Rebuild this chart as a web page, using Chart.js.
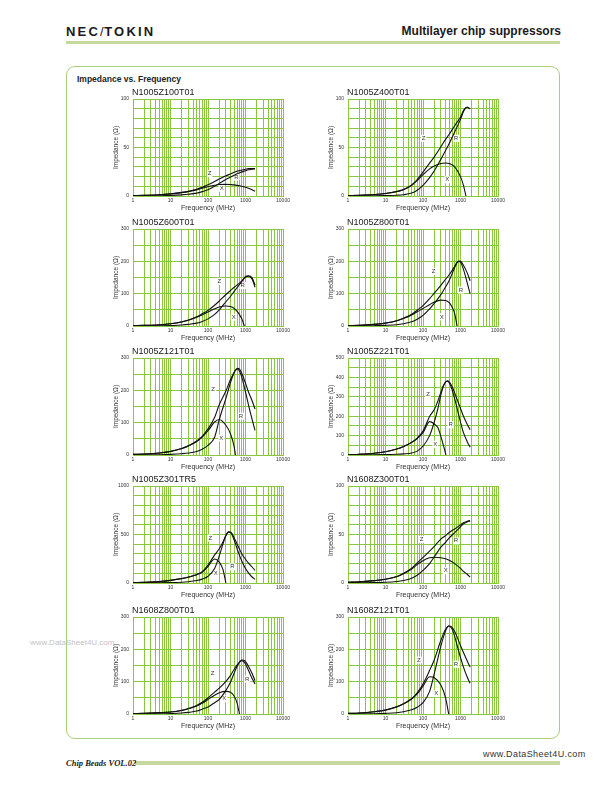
<!DOCTYPE html>
<html>
<head>
<meta charset="utf-8">
<script src="https://cdn.jsdelivr.net/npm/chart.js@4.4.1/dist/chart.umd.min.js"></script>
<style>
  body { margin: 0; width: 612px; height: 790px; position: relative; background: #fff; overflow: hidden;
         font-family: "Liberation Sans", Arial, sans-serif; color: #222; }
  .abs { position: absolute; white-space: nowrap; }
  canvas { position: absolute; }
  #logo { left: 66px; top: 25px; font-size: 13px; font-weight: bold; letter-spacing: 2.2px; line-height: 13px; color: #1a1a1a; }
  #logo span { font-weight: normal; letter-spacing: 0.5px; }
  #series { right: 51px; top: 25px; font-size: 12px; font-weight: bold; line-height: 13px; color: #1a1a1a; }
  #rule { left: 66px; top: 41px; width: 494px; height: 3px; background: #c5d89d; }
  #box { left: 66px; top: 66px; width: 492px; height: 671px; border: 1px solid #a9cf78; border-radius: 9px; }
  #section { left: 77px; top: 74px; font-size: 8.5px; font-weight: bold; line-height: 10px; }
  #foot { left: 66px; top: 758px; font-family: "Liberation Serif", "DejaVu Serif", serif; font-style: italic; font-weight: bold; font-size: 8.5px; line-height: 10px; }
  #footbar { left: 135px; top: 761px; width: 425px; height: 4px; background: #c5d89d; }
  #site { left: 483px; top: 749px; font-size: 9px; letter-spacing: 0.4px; line-height: 10px; color: #333; background: #fff; padding-right: 2px; }
  #mark { left: 30px; top: 638px; font-size: 8px; line-height: 9px; color: #c4c4c4; }
</style>
</head>
<body>
<div class="abs" id="logo">NEC<span>/</span>TOKIN</div>
<div class="abs" id="series">Multilayer chip suppressors</div>
<div class="abs" id="rule"></div>
<div class="abs" id="box"></div>
<div class="abs" id="section">Impedance vs. Frequency</div>
<div class="abs" id="mark">www.DataSheet4U.com</div>
<div class="abs" id="footbar"></div>
<div class="abs" id="foot">Chip Beads VOL.02</div>
<div class="abs" id="site">www.DataSheet4U.com</div>

<script>
// axis setup
const MODELS = ['N1005Z100T01', 'N1005Z400T01', 'N1005Z600T01', 'N1005Z800T01', 'N1005Z121T01',
                'N1005Z221T01', 'N1005Z301TR5', 'N1608Z300T01', 'N1608Z800T01', 'N1608Z121T01'];
const Y_MAX   = [100, 100, 300, 300, 300, 500, 1000, 100, 300, 300];
const Y_GRID  = [10, 10, 50, 50, 50, 50, 100, 10, 50, 50];
const Y_LABEL = [50, 50, 100, 100, 100, 100, 500, 50, 100, 100];
const FREQ_LABELS = ['1', '10', '100', '1000', '10000'];
const FREQ_GRID = [1, 2, 3, 4, 5, 6, 7, 8, 9, 10, 20, 30, 40, 50, 60, 70, 80, 90,
                   100, 200, 300, 400, 500, 600, 700, 800, 900, 1000, 2000, 3000, 4000,
                   5000, 6000, 7000, 8000, 9000, 10000];

// N1005Z100T01
const f_1005Z100 = [1, 2, 5, 10, 20, 30, 50, 70, 100, 150, 200, 300, 400, 500, 700, 1000, 1200, 1500, 1800];
const z_1005Z100 = [0.3, 0.6, 1.3, 2.3, 3.7, 4.8, 6.9, 8.9, 11.5, 14.9, 17.5, 20.8, 22.8, 24.4, 26.2, 27.5, 28.2, 28.3, 28.4];
const r_1005Z100 = [0.05, 0.1, 0.3, 0.6, 1.2, 1.8, 3, 4.5, 6.5, 10, 13, 17, 19.5, 21.5, 24, 26, 27, 27.5, 28];
const x_1005Z100 = [0.3, 0.6, 1.3, 2.2, 3.5, 4.5, 6.3, 8, 9.5, 11, 11.8, 12, 11.8, 11.5, 10.5, 9, 8, 6.5, 5];
const tag_1005Z100 = [['Z', 111, 23], ['R', 570, 19.5], ['X', 231, 7.9]];

// N1005Z400T01
const f_1005Z400 = [1, 2, 5, 10, 20, 30, 50, 70, 100, 150, 200, 300, 400, 500, 700, 1000, 1200, 1400, 1500, 1800];
const z_1005Z400 = [0.5, 0.8, 1.5, 2.5, 4.6, 6.6, 11.4, 17, 24.6, 33.9, 40.4, 50.8, 58.4, 63.6, 72.5, 81.5, 88, 91, 91.5, 90];
const r_1005Z400 = [0.05, 0.1, 0.2, 0.4, 0.8, 1.3, 3, 6, 11, 19, 26, 38, 47, 54, 66, 79, 87, 91, 91.5, 90];
const x_1005Z400 = [0.5, 0.8, 1.5, 2.5, 4.5, 6.5, 11, 16, 22, 28, 31, 33.5, 34, 33.5, 30, 20, 11, 0];
const tag_1005Z400 = [['Z', 104, 59.4], ['R', 760, 59.4], ['X', 446, 16.8]];

// N1005Z600T01
const f_1005Z600 = [1, 2, 5, 10, 20, 30, 50, 70, 100, 150, 200, 300, 400, 500, 600, 700, 800, 930, 1000, 1200, 1500, 1800];
const z_1005Z600 = [1, 2, 4.1, 7.2, 12.9, 18.7, 28.5, 37.7, 48.3, 64.2, 77.3, 97.4, 109.9, 119.9, 127.1, 133.4, 139.7, 148, 153, 155.5, 149, 126];
const r_1005Z600 = [0.1, 0.3, 0.8, 1.5, 3, 5, 9, 14, 22, 36, 50, 75, 92, 107, 119, 129, 138, 148, 151, 154, 145, 120];
const x_1005Z600 = [1, 2, 4, 7, 12.5, 18, 27, 35, 43, 53, 59, 62, 60, 54, 45, 34, 22, 0];
const tag_1005Z600 = [['Z', 200, 138], ['R', 840, 125], ['X', 483, 27]];

// N1005Z800T01
const f_1005Z800 = [1, 2, 5, 10, 20, 30, 50, 70, 100, 150, 200, 300, 400, 500, 600, 700, 810, 900, 1000, 1200, 1500, 1800];
const z_1005Z800 = [1, 2, 5.1, 9.2, 16.5, 24, 36.4, 48.8, 63.3, 84.6, 101.9, 125.7, 144.5, 158.4, 172, 185, 197, 201, 200, 188, 165, 140];
const r_1005Z800 = [0.1, 0.3, 1, 2, 4, 7, 13, 21, 33, 53, 70, 97, 121, 141, 162, 181, 196, 200, 197, 175, 135, 100];
const x_1005Z800 = [1, 2, 5, 9, 16, 23, 34, 44, 54, 66, 74, 80, 79, 72, 58, 38, 0];
const tag_1005Z800 = [['Z', 192, 169], ['R', 1030, 111], ['X', 315, 28]];

// N1005Z121T01
const f_1005Z121 = [1, 2, 5, 10, 20, 30, 50, 70, 100, 150, 200, 300, 400, 500, 540, 600, 700, 800, 1000, 1200, 1500, 1800];
const z_1005Z121 = [2, 3, 6.1, 11.2, 20.4, 28.6, 43.4, 57.9, 80.8, 116, 156, 198, 234, 256, 262, 268, 265, 252, 222, 195, 168, 142];
const r_1005Z121 = [0.2, 0.4, 1, 2, 4, 6, 11, 18, 30, 55, 110, 175, 225, 255, 262, 266, 258, 240, 195, 155, 110, 76];
const x_1005Z121 = [2, 3, 6, 11, 20, 28, 42, 55, 75, 102, 110, 92, 65, 25, 0];
const tag_1005Z121 = [['Z', 136, 203], ['R', 760, 120], ['X', 227, 52]];

// N1005Z221T01
const f_1005Z221 = [1, 2, 5, 10, 20, 30, 50, 70, 100, 150, 200, 250, 300, 350, 410, 450, 500, 600, 700, 800, 1000, 1200, 1500, 1800];
const z_1005Z221 = [2, 4, 9.1, 17.1, 31.3, 43.4, 65.8, 87.3, 123.5, 199, 234, 279, 324, 358, 378, 382, 377, 352, 320, 290, 240, 200, 160, 130];
const r_1005Z221 = [0.2, 0.5, 1, 2, 4, 6, 10, 20, 45, 100, 170, 240, 310, 355, 378, 380, 372, 335, 290, 245, 170, 115, 70, 40];
const x_1005Z221 = [2, 4, 9, 17, 31, 43, 65, 85, 115, 172, 160, 140, 95, 50, 0];
const tag_1005Z221 = [['Z', 136, 314], ['R', 547, 156], ['X', 213, 55]];

// N1005Z301TR5
const f_1005Z301 = [1, 2, 5, 10, 20, 30, 50, 70, 100, 150, 200, 250, 300, 350, 400, 500, 600, 700, 800, 1000, 1200, 1500, 1800];
const z_1005Z301 = [3, 6.1, 14.1, 27.3, 45.7, 61.4, 88.6, 117, 184, 290, 353, 424, 490, 527, 525, 465, 400, 345, 300, 245, 205, 165, 130];
const r_1005Z301 = [0.5, 1, 2, 4, 8, 13, 25, 40, 70, 150, 280, 400, 490, 525, 520, 440, 350, 280, 225, 150, 105, 62, 37];
const x_1005Z301 = [3, 6, 14, 27, 45, 60, 85, 110, 170, 248, 215, 140, 0];
const tag_1005Z301 = [['Z', 115, 464], ['R', 445, 167], ['X', 160, 99]];

// N1608Z300T01
const f_1608Z300 = [1, 2, 5, 10, 20, 30, 50, 70, 100, 150, 200, 300, 400, 500, 700, 1000, 1200, 1500, 1800];
const z_1608Z300 = [0.7, 1.2, 2.4, 3.9, 6.7, 9.8, 15.3, 20.6, 26.4, 32.8, 37.8, 45.3, 48.8, 52.1, 55.7, 59.9, 62.2, 63.6, 64.3];
const r_1608Z300 = [0.1, 0.2, 0.4, 0.7, 1.5, 2.5, 5, 8, 13, 20, 27, 37, 42, 46.5, 52, 58, 61, 63, 64];
const x_1608Z300 = [0.7, 1.2, 2.4, 3.8, 6.5, 9.5, 14.5, 19, 23, 26, 26.5, 26, 25, 23.5, 20, 15, 12, 9, 6];
const tag_1608Z300 = [['Z', 92, 45], ['R', 760, 43.5], ['X', 402, 12.6]];

// N1608Z800T01
const f_1608Z800 = [1, 2, 5, 10, 20, 30, 50, 70, 100, 150, 200, 300, 400, 500, 600, 690, 800, 900, 1000, 1200, 1500, 1800];
const z_1608Z800 = [1, 2, 4.1, 6.2, 11.4, 16.8, 26.6, 36.2, 50.1, 67.7, 79.9, 101, 119.6, 138.4, 151.7, 160.5, 167, 166, 162, 148, 125, 103];
const r_1608Z800 = [0.1, 0.3, 0.7, 1.5, 3, 5, 9, 15, 22, 35, 45, 73, 99, 127, 148, 160, 165, 162, 155, 135, 110, 93];
const x_1608Z800 = [1, 2, 4, 6, 11, 16, 25, 33, 45, 58, 66, 70, 67, 55, 33, 0];
const tag_1608Z800 = [['Z', 133, 125], ['R', 1100, 108], ['X', 273, 47]];

// N1608Z121T01
const f_1608Z121 = [1, 2, 5, 10, 20, 30, 50, 70, 100, 150, 200, 300, 400, 485, 600, 700, 800, 1000, 1200, 1500, 1800];
const z_1608Z121 = [2, 3, 7.1, 12.2, 22.4, 31.8, 47.8, 65.5, 92.9, 135, 168, 228, 262, 272, 268, 255, 240, 212, 190, 165, 145];
const r_1608Z121 = [0.2, 0.4, 1, 2, 4, 7, 13, 21, 35, 70, 125, 210, 257, 272, 262, 240, 215, 175, 145, 115, 95];
const x_1608Z121 = [2, 3, 7, 12, 22, 31, 46, 62, 86, 115, 112, 90, 50, 0];
const tag_1608Z121 = [['Z', 78, 167], ['R', 760, 154], ['X', 227, 63]];

const CHARTS = [
    { f: f_1005Z100, z: z_1005Z100, r: r_1005Z100, x: x_1005Z100, tags: tag_1005Z100 },
    { f: f_1005Z400, z: z_1005Z400, r: r_1005Z400, x: x_1005Z400, tags: tag_1005Z400 },
    { f: f_1005Z600, z: z_1005Z600, r: r_1005Z600, x: x_1005Z600, tags: tag_1005Z600 },
    { f: f_1005Z800, z: z_1005Z800, r: r_1005Z800, x: x_1005Z800, tags: tag_1005Z800 },
    { f: f_1005Z121, z: z_1005Z121, r: r_1005Z121, x: x_1005Z121, tags: tag_1005Z121 },
    { f: f_1005Z221, z: z_1005Z221, r: r_1005Z221, x: x_1005Z221, tags: tag_1005Z221 },
    { f: f_1005Z301, z: z_1005Z301, r: r_1005Z301, x: x_1005Z301, tags: tag_1005Z301 },
    { f: f_1608Z300, z: z_1608Z300, r: r_1608Z300, x: x_1608Z300, tags: tag_1608Z300 },
    { f: f_1608Z800, z: z_1608Z800, r: r_1608Z800, x: x_1608Z800, tags: tag_1608Z800 },
    { f: f_1608Z121, z: z_1608Z121, r: r_1608Z121, x: x_1608Z121, tags: tag_1608Z121 }
];

// page placement of the plot areas
const PLOT_LEFT = [133, 348];
const ROW_TOP = [99, 229, 358, 486, 617];
const PLOT_W = 150, PLOT_H = 97;
const PAD_L = 30, PAD_T = 14, PAD_R = 14, PAD_B = 16;
const GRID = '#8cc540';
const FONT = '"Liberation Sans", Arial, sans-serif';

Chart.defaults.font.family = FONT;
Chart.defaults.color = '#333';

function points(f, v) {
    return v.map((y, i) => ({ x: f[i], y: y }));
}

function curve(label, data) {
    return {
        label: label,
        data: data,
        borderColor: '#111',
        backgroundColor: '#111',
        borderWidth: 1.1,
        pointRadius: 0,
        fill: false,
        cubicInterpolationMode: 'monotone'
    };
}

// model name above the plot and the Z / R / X curve tags
const tagPlugin = {
    id: 'tags',
    beforeDatasetsDraw(chart, args, opts) {
        const { ctx, chartArea, scales } = chart;
        ctx.save();
        ctx.textBaseline = 'middle';
        ctx.font = '6px ' + FONT;
        ctx.textAlign = 'center';
        opts.tags.forEach(([t, f, v]) => {
            const px = scales.x.getPixelForValue(f);
            const py = scales.y.getPixelForValue(v);
            const w = ctx.measureText(t).width + 2;
            ctx.fillStyle = '#fff';
            ctx.fillRect(px - w / 2, py - 3.5, w, 7);
            ctx.fillStyle = '#333';
            ctx.fillText(t, px, py);
        });
        ctx.font = '9px ' + FONT;
        ctx.textAlign = 'left';
        ctx.fillStyle = '#1a1a1a';
        ctx.fillText(opts.title, chartArea.left - 1, chartArea.top - 6.5);
        ctx.restore();
    }
};

CHARTS.forEach((c, i) => {
    const col = i % 2, row = Math.floor(i / 2);
    const cv = document.createElement('canvas');
    cv.width = PAD_L + PLOT_W + PAD_R;
    cv.height = PAD_T + PLOT_H + PAD_B;
    cv.style.left = (PLOT_LEFT[col] - PAD_L) + 'px';
    cv.style.top = (ROW_TOP[row] - PAD_T) + 'px';
    document.body.appendChild(cv);

    new Chart(cv, {
        type: 'line',
        data: {
            datasets: [
                curve('Z', points(c.f, c.z)),
                curve('R', points(c.f, c.r)),
                curve('X', points(c.f, c.x))
            ]
        },
        options: {
            responsive: false,
            animation: false,
            devicePixelRatio: 1,
            events: [],
            layout: { padding: { left: 0, top: PAD_T, right: PAD_R, bottom: 0 } },
            plugins: {
                colors: { enabled: false },
                legend: { display: false },
                tooltip: { enabled: false },
                tags: { title: MODELS[i], tags: c.tags }
            },
            scales: {
                x: {
                    type: 'logarithmic',
                    min: 1,
                    max: 10000,
                    afterBuildTicks: s => { s.ticks = FREQ_GRID.map(v => ({ value: v })); },
                    afterFit: s => { s.height = PAD_B; },
                    grid: { color: GRID, lineWidth: 1, drawTicks: false },
                    border: { color: GRID },
                    ticks: {
                        autoSkip: false, maxRotation: 0, minRotation: 0, padding: 2,
                        font: { size: 5 },
                        callback: v => FREQ_LABELS.includes(String(v)) ? String(v) : ''
                    },
                    title: { display: true, text: 'Frequency (MHz)', font: { size: 7 }, padding: 0 }
                },
                y: {
                    min: 0,
                    max: Y_MAX[i],
                    afterFit: s => { s.width = PAD_L; },
                    grid: { color: GRID, lineWidth: 1, drawTicks: false },
                    border: { color: GRID },
                    ticks: {
                        stepSize: Y_GRID[i], autoSkip: false, padding: 4,
                        font: { size: 5 },
                        callback: v => v % Y_LABEL[i] === 0 ? String(v) : ''
                    },
                    title: { display: true, text: 'Impedance (Ω)', font: { size: 6.5 }, padding: { top: 9.4, bottom: 0 } }
                }
            }
        },
        plugins: [tagPlugin]
    });
});
</script>
</body>
</html>
